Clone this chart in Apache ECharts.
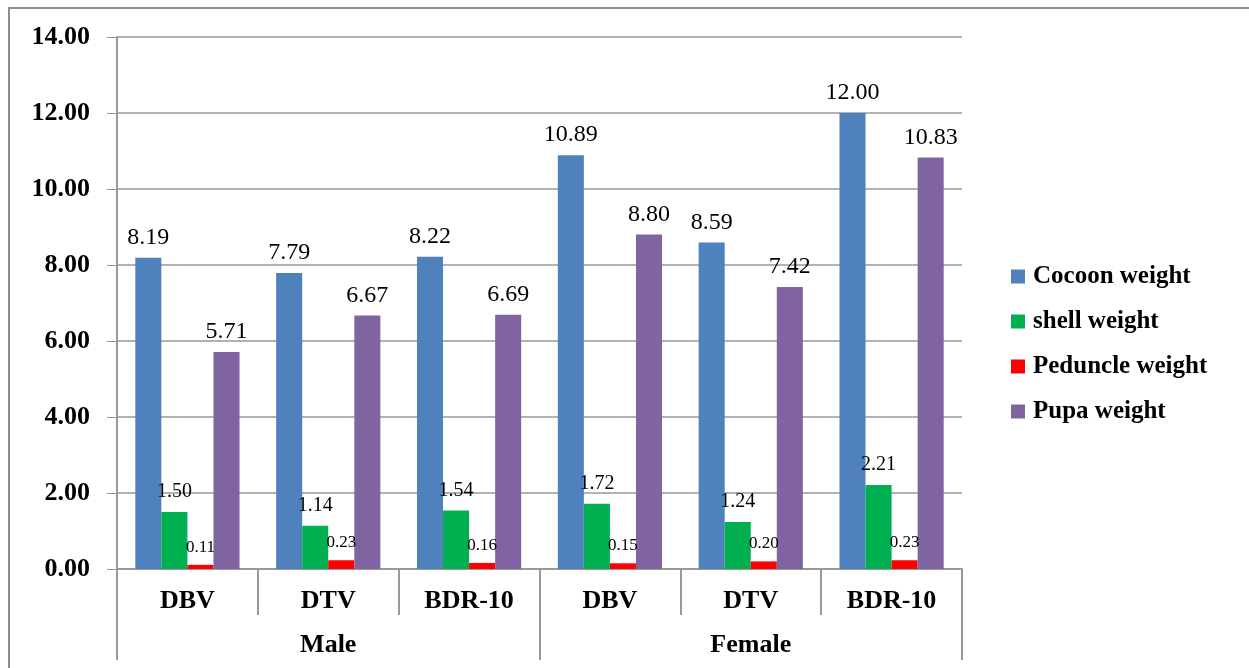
<!DOCTYPE html>
<html><head><meta charset="utf-8">
<script src="https://cdn.jsdelivr.net/npm/echarts@6/dist/echarts.min.js"></script>
<style>html,body{margin:0;padding:0;background:#fff}#c{width:1249px;height:668px}</style>
</head><body><div id="c"></div>
<script>
const categories = ['DBV','DTV','BDR-10','DBV','DTV','BDR-10'];
const groups = ['Male','Female'];
const seriesNames = ['Cocoon weight','shell weight','Peduncle weight','Pupa weight'];
const cocoon = [8.19, 7.79, 8.22, 10.89, 8.59, 12.00];
const shell = [1.50, 1.14, 1.54, 1.72, 1.24, 2.21];
const peduncle = [0.11, 0.23, 0.16, 0.15, 0.20, 0.23];
const pupa = [5.71, 6.67, 6.69, 8.80, 7.42, 10.83];
const colors = ['#4F81BD','#00B050','#FF0000','#8064A2'];
const FONT = '"Liberation Serif", "Times New Roman", serif';

const chart = echarts.init(document.getElementById('c'), null, {renderer:'canvas'});
const labelSizes = [24, 20, 17, 24];
const labelDist = [8, 10, 9, 8];
const allData = [cocoon, shell, peduncle, pupa];
chart.setOption({
  animation:false,
  backgroundColor:'#fff',
  color: colors,
  graphic:[{type:'rect', shape:{x:9,y:8,width:1300,height:700}, style:{fill:'none', stroke:'#8c8c8c', lineWidth:2}, z:100}],
  grid:{left:117, right:287, top:37, bottom:99},
  legend:{
    orient:'vertical', left:1006, top:259, itemGap:20, itemWidth:14, itemHeight:14,
    icon:'rect',
    textStyle:{fontFamily:FONT, fontWeight:'bold', fontSize:25, color:'#000', padding:[0,0,0,3]},
    data: seriesNames
  },
  xAxis:[{
    type:'category', data:categories, position:'bottom',
    axisLine:{lineStyle:{color:'#999', width:2}},
    axisTick:{show:true, length:46, interval:0, lineStyle:{color:'#999', width:2}},
    axisLabel:{fontFamily:FONT, fontWeight:'bold', fontSize:26, color:'#000', margin:19, interval:0}
  },{
    type:'category', data:groups, position:'bottom', offset:0,
    axisLine:{show:false},
    axisTick:{show:true, length:91, interval:0, lineStyle:{color:'#999', width:2}},
    axisLabel:{fontFamily:FONT, fontWeight:'bold', fontSize:26, color:'#000', margin:63, interval:0}
  }],
  yAxis:{
    type:'value', min:0, max:14, interval:2,
    axisLine:{show:true, lineStyle:{color:'#999', width:2}},
    axisTick:{show:true, length:10, lineStyle:{color:'#999'}},
    splitLine:{lineStyle:{color:'#999', width:1.5}},
    axisLabel:{fontFamily:FONT, fontWeight:'bold', fontSize:26, color:'#000', margin:27,
      formatter:v=>v.toFixed(2)}
  },
  series: seriesNames.map((n,i)=>({
    name:n, type:'bar', xAxisIndex:0, data:allData[i],
    barGap:'0%', barCategoryGap:'26%',
    itemStyle:{color:colors[i]},
    label:{show:true, position:'top', distance:labelDist[i], fontFamily:FONT, fontSize:labelSizes[i], color:'#000',
      formatter:p=>p.value.toFixed(2)}
  }))
});
</script></body></html>
